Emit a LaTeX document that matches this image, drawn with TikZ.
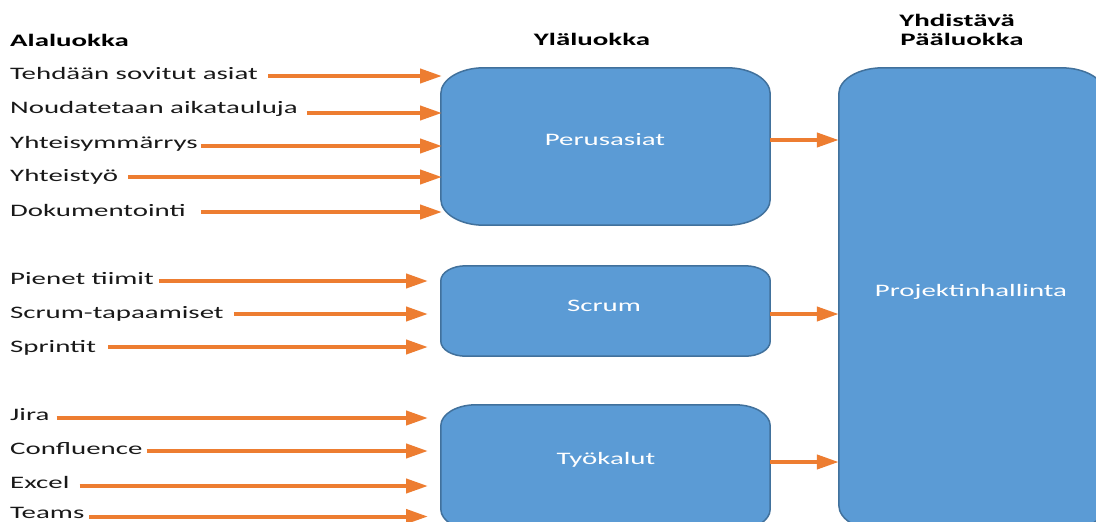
\documentclass[tikz,border=0pt]{standalone}
\usepackage{fontspec}
\setmainfont{Carlito}[FakeStretch=1.65]
\usetikzlibrary{arrows.meta}
\definecolor{boxfill}{HTML}{5B9BD5}
\definecolor{boxline}{HTML}{41719C}
\definecolor{arrorange}{HTML}{ED7D31}
\newcommand\ellbox[3]{%
  \path[boxshape] ([xshift=#2]#1.north west) -- ([xshift=-#2]#1.north east)
    arc[start angle=90,end angle=0,x radius=#2,y radius=#3]
    -- ([yshift=#3]#1.south east)
    arc[start angle=0,end angle=-90,x radius=#2,y radius=#3]
    -- ([xshift=#2]#1.south west)
    arc[start angle=-90,end angle=-180,x radius=#2,y radius=#3]
    -- ([yshift=-#3]#1.north west)
    arc[start angle=180,end angle=90,x radius=#2,y radius=#3]
    -- cycle;}
\newcommand\basefont{\fontsize{17.5}{21}\selectfont}
\tikzset{
  boxarea/.style={shape=rectangle,inner sep=0pt,draw=none},
  boxshape/.style={fill=boxfill,draw=boxline,line width=1.5pt},
  boxtext/.style={anchor=base,inner sep=0pt,text=white},
  lbl/.style={anchor=base west,inner sep=0pt,text=black!90},
  head/.style={anchor=base,inner sep=0pt,text=black,font=\basefont\bfseries},
  arr/.style={draw=arrorange,line width=4pt,-{Triangle[length=22pt,width=14pt]}}
}
\begin{document}
\begin{tikzpicture}[x=1pt,y=-1pt,font=\basefont]
\useasboundingbox (0,0) rectangle (1096,522);
\clip (0,0) rectangle (1096,522);
\fill[white] (0,0) rectangle (1096,522);

% boxes
\node[boxarea,minimum width=329pt,minimum height=157pt] (pb) at (605.5,146.5) {};
\node[boxarea,minimum width=329pt,minimum height=90pt] (sb) at (605.5,311) {};
\node[boxarea,minimum width=329pt,minimum height=125pt] (tb) at (605.5,467.5) {};
\node[boxarea,minimum width=266pt,minimum height=463pt] (ph) at (972,299.5) {};
\ellbox{pb}{43pt}{26pt}
\ellbox{sb}{25pt}{15pt}
\ellbox{tb}{35pt}{21pt}
\ellbox{ph}{44pt}{26pt}

\node[boxtext] (pbt) at (605,145) {Perusasiat};
\node[boxtext] (sbt) at (604,311) {Scrum};
\node[boxtext] (tbt) at (606,464.5) {Työkalut};
\node[boxtext] (pht) at (971,296) {Projektinhallinta};

% headings
\node[head,anchor=base west] (h1) at (10,46) {Alaluokka};
\node[head] (h2) at (592,45.5) {Yläluokka};
\node[head] (h3) at (957,27) {Yhdistävä};
\node[head] (h4) at (962,45.5) {Pääluokka};

% labels
\node[lbl] (t1) at (10,79.3) {Tehdään sovitut asiat};
\node[lbl] (t2) at (10,113.3) {Noudatetaan aikatauluja};
\node[lbl] (t3) at (10,148.3) {Yhteisymmärrys};
\node[lbl] (t4) at (10,181.7) {Yhteistyö};
\node[lbl] (t5) at (10,216) {Dokumentointi};
\node[lbl] (t6) at (10,284.3) {Pienet tiimit};
\node[lbl] (t7) at (10,318.3) {Scrum-tapaamiset};
\node[lbl] (t8) at (10,352.7) {Sprintit};
\node[lbl] (t9) at (10,420) {Jira};
\node[lbl] (t10) at (10,454.3) {Confluence};
\node[lbl] (t11) at (10,488.3) {Excel};
\node[lbl] (t12) at (10,518.5) {Teams};

% arrow ends
\coordinate (e1) at (442,76);
\coordinate (e2) at (442,113);
\coordinate (e3) at (442,146);
\coordinate (e4) at (442,177);
\coordinate (e5) at (442,212);
\coordinate (e6) at (428,281);
\coordinate (e7) at (428,314);
\coordinate (e8) at (428,347);
\coordinate (e9) at (428,418);
\coordinate (e10) at (428,451);
\coordinate (e11) at (428,486);
\coordinate (e12) at (428,516.5);

\foreach \i/\g in {1/10,2/9,3/3,4/10,5/15,6/5,7/10,8/12,9/7,10/4,11/10,12/5}{
  \draw[arr] ([xshift=\g pt]t\i.east |- e\i) -- (e\i);
}

% right arrows
\path ([yshift=6.5pt]pb.east) coordinate (r1);
\path ([yshift=-3pt]sb.east) coordinate (r2);
\path ([yshift=5.5pt]tb.east) coordinate (r3);
\draw[arr] (r1) -- (r1 -| ph.west);
\draw[arr] (r2) -- (r2 -| ph.west);
\draw[arr] (r3) -- (r3 -| ph.west);
\end{tikzpicture}
\end{document}
